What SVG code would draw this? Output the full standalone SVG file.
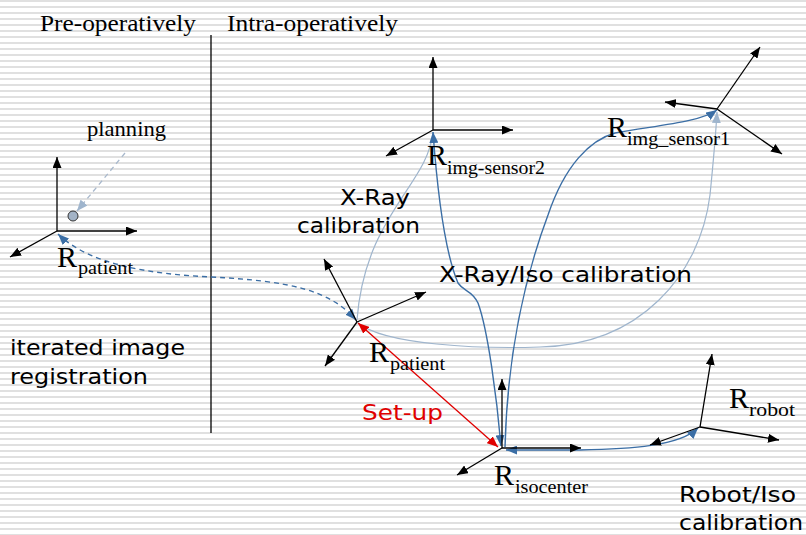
<svg xmlns="http://www.w3.org/2000/svg" width="806" height="535" viewBox="0 0 806 535">
<defs>
<pattern id="stripes" x="0" y="0" width="806" height="6" patternUnits="userSpaceOnUse">
<rect x="0" y="0" width="806" height="2" fill="#e0e0e0"/>
</pattern>
<marker id="ak" markerUnits="userSpaceOnUse" markerWidth="11" markerHeight="9" refX="11" refY="4.5" orient="auto-start-reverse"><path d="M0,0 L11,4.5 L0,9 z" fill="#000"/></marker>
<marker id="ab" markerUnits="userSpaceOnUse" markerWidth="11" markerHeight="9" refX="11" refY="4.5" orient="auto-start-reverse"><path d="M0,0 L11,4.5 L0,9 z" fill="#3b6ea5"/></marker>
<marker id="al" markerUnits="userSpaceOnUse" markerWidth="11" markerHeight="9" refX="11" refY="4.5" orient="auto-start-reverse"><path d="M0,0 L11,4.5 L0,9 z" fill="#9fb5cd"/></marker>
<marker id="ar" markerUnits="userSpaceOnUse" markerWidth="11" markerHeight="9" refX="11" refY="4.5" orient="auto-start-reverse"><path d="M0,0 L11,4.5 L0,9 z" fill="#e00000"/></marker>
</defs>
<style>
.ax{stroke:#000;stroke-width:1.3;fill:none;marker-end:url(#ak)}
.dk{stroke:#3b6ea5;stroke-width:1.4;fill:none}
.lt{stroke:#9fb5cd;stroke-width:1.2;fill:none}
.serif{font-family:"Liberation Serif","DejaVu Serif",serif;fill:#000}
.R{font-size:30px}
.sub{font-size:18px}
.sans{font-family:"DejaVu Sans","Liberation Sans",sans-serif;font-size:21px;fill:#000}
</style>
<rect width="806" height="535" fill="#fff"/>
<rect width="806" height="535" fill="url(#stripes)"/>

<g id="headers">
<text class="serif" x="40" y="31" font-size="23" textLength="156" lengthAdjust="spacingAndGlyphs">Pre-operatively</text>
<text class="serif" x="227" y="31" font-size="23" textLength="171" lengthAdjust="spacingAndGlyphs">Intra-operatively</text>
<line x1="211" y1="35" x2="211" y2="433" stroke="#000" stroke-width="1.3"/>
</g>

<g id="connectors">
<path d="M125,153 L77,211" stroke="#a8b8cc" stroke-width="1.3" stroke-dasharray="5,4" fill="none" marker-end="url(#al)"/>
<path class="dk" d="M58,234 C90,265 150,274 211,277 C290,281 330,290 356,320" stroke-dasharray="5,4" marker-start="url(#ab)" marker-end="url(#ab)"/>
<path class="lt" d="M433,132 C428,185 365,215 357,320"/>
<path class="lt" d="M358,323 C385,345 480,349 540,347 C640,345 700,275 710,195 C714,155 716,130 717,112" marker-end="url(#al)"/>
<path class="dk" d="M501,446 C497,400 488,330 478,303 C472,290 464,292 458,283 C446,255 438,200 433,132" marker-start="url(#ab)" marker-end="url(#ab)"/>
<path class="dk" d="M505,447 C507,370 520,290 548,215 C565,165 590,140 615,133 C660,125 700,122 717,110" marker-end="url(#ab)"/>
<path class="dk" d="M506,450 L580,450 C630,449 680,446 698,428" marker-start="url(#ab)" marker-end="url(#ab)"/>
<line x1="358" y1="323" x2="498" y2="447" stroke="#e00000" stroke-width="1.3" marker-start="url(#ar)" marker-end="url(#ar)"/>
</g>

<g id="frame-patient-pre">
<line class="ax" x1="57" y1="231" x2="57" y2="157"/>
<line class="ax" x1="57" y1="231" x2="137" y2="231"/>
<line class="ax" x1="57" y1="231" x2="10" y2="257"/>
<circle cx="73" cy="216" r="5" fill="#a3b3c6" stroke="#333" stroke-width="1"/>
<text class="serif" x="87" y="136" font-size="21" textLength="79" lengthAdjust="spacingAndGlyphs">planning</text>
<text class="serif R" x="57" y="267">R</text>
<text class="serif sub" x="78" y="274" textLength="55" lengthAdjust="spacingAndGlyphs">patient</text>
</g>

<g id="frame-img-sensor2">
<line class="ax" x1="433" y1="130" x2="433" y2="57"/>
<line class="ax" x1="433" y1="130" x2="513" y2="130"/>
<line class="ax" x1="433" y1="130" x2="386" y2="156"/>
<text class="serif R" x="427" y="165">R</text>
<text class="serif sub" x="447" y="174" textLength="98" lengthAdjust="spacingAndGlyphs">img-sensor2</text>
</g>

<g id="frame-img-sensor1">
<line class="ax" x1="717" y1="109" x2="760" y2="47"/>
<line class="ax" x1="717" y1="109" x2="665" y2="102"/>
<line class="ax" x1="717" y1="109" x2="782" y2="154"/>
<text class="serif R" x="607" y="137">R</text>
<text class="serif sub" x="627" y="145" textLength="103" lengthAdjust="spacingAndGlyphs">img_sensor1</text>
</g>

<g id="frame-patient-intra">
<line class="ax" x1="357" y1="322" x2="324" y2="259"/>
<line class="ax" x1="357" y1="322" x2="426" y2="292"/>
<line class="ax" x1="357" y1="322" x2="325" y2="366"/>
<text class="serif R" x="369" y="362">R</text>
<text class="serif sub" x="390" y="370" textLength="55" lengthAdjust="spacingAndGlyphs">patient</text>
</g>

<g id="frame-isocenter">
<line class="ax" x1="502" y1="448" x2="502" y2="379"/>
<line class="ax" x1="502" y1="448" x2="581" y2="448"/>
<line class="ax" x1="502" y1="448" x2="457" y2="475"/>
<text class="serif R" x="494" y="485">R</text>
<text class="serif sub" x="515" y="493" textLength="73" lengthAdjust="spacingAndGlyphs">isocenter</text>
</g>

<g id="frame-robot">
<line class="ax" x1="700" y1="427" x2="712" y2="354"/>
<line class="ax" x1="700" y1="427" x2="779" y2="440"/>
<line class="ax" x1="700" y1="427" x2="650" y2="445"/>
<text class="serif R" x="729" y="408">R</text>
<text class="serif sub" x="749" y="416" textLength="46" lengthAdjust="spacingAndGlyphs">robot</text>
</g>

<g id="labels">
<text class="sans" x="340" y="205" textLength="70" lengthAdjust="spacingAndGlyphs">X-Ray</text>
<text class="sans" x="297" y="233" textLength="123" lengthAdjust="spacingAndGlyphs">calibration</text>
<text class="sans" x="439" y="282" textLength="253" lengthAdjust="spacingAndGlyphs">X-Ray/Iso calibration</text>
<text class="sans" x="10" y="355" textLength="175" lengthAdjust="spacingAndGlyphs">iterated image</text>
<text class="sans" x="10" y="384" textLength="138" lengthAdjust="spacingAndGlyphs">registration</text>
<text class="sans" x="362" y="420" style="fill:#e00000" textLength="81" lengthAdjust="spacingAndGlyphs">Set-up</text>
<text class="sans" x="679" y="502" textLength="117" lengthAdjust="spacingAndGlyphs">Robot/Iso</text>
<text class="sans" x="679" y="530" textLength="124" lengthAdjust="spacingAndGlyphs">calibration</text>
</g>
</svg>
